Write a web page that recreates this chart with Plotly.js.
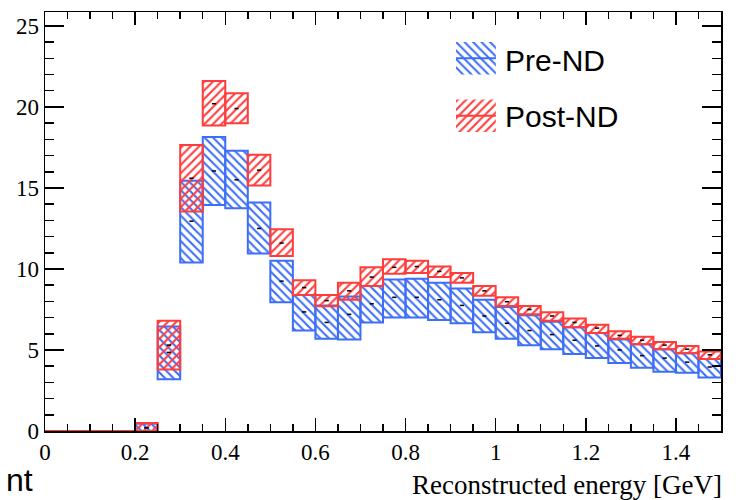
<!DOCTYPE html>
<html>
<head>
<meta charset="utf-8">
<script src="https://cdn.plot.ly/plotly-3.0.1.min.js"></script>
<style>
  html, body { margin: 0; padding: 0; background: #fff; }
  #chart { width: 744px; height: 500px; }
</style>
</head>
<body>
<div id="chart"></div>
<script>
// Reconstructed-energy bins (GeV), bin centres and common width
const binCenters = [0.025, 0.075, 0.125, 0.175, 0.225, 0.275, 0.325, 0.375, 0.425, 0.475,
                    0.525, 0.575, 0.625, 0.675, 0.725, 0.775, 0.825, 0.875, 0.925, 0.975,
                    1.025, 1.075, 1.125, 1.175, 1.225, 1.275, 1.325, 1.375, 1.425, 1.475];
const binWidth = 0.05;

// Pre-ND prediction: error band (low / high) and central value per bin
const preLow     = [0, 0, 0, 0, 0, 3.2, 10.4, 13.95, 13.75, 10.95,
                    7.95, 6.2, 5.7, 5.65, 6.7, 7.0, 7.0, 6.85, 6.65, 6.1,
                    5.7, 5.3, 5.05, 4.75, 4.5, 4.2, 3.9, 3.65, 3.6, 3.3];
const preHigh    = [0, 0, 0, 0, 0.45, 6.45, 15.45, 18.15, 17.3, 14.1,
                    10.5, 8.4, 7.75, 8.3, 8.95, 9.35, 9.4, 9.15, 8.8, 8.1,
                    7.65, 7.15, 6.75, 6.4, 6.05, 5.65, 5.35, 5.05, 4.8, 4.45];
const preCentral = [0, 0, 0, 0, 0.2, 4.85, 12.95, 16.05, 15.5, 12.5,
                    9.25, 7.35, 6.7, 7.2, 7.85, 8.25, 8.25, 8.1, 7.75, 7.1,
                    6.65, 6.2, 5.95, 5.6, 5.25, 5.0, 4.65, 4.5, 4.25, 3.95];

// Post-ND prediction
const postLow     = [0, 0, 0, 0, 0, 3.8, 13.55, 18.85, 19.0, 15.15,
                     10.8, 8.4, 7.7, 8.1, 8.95, 9.7, 9.75, 9.5, 9.15, 8.35,
                     7.72, 7.2, 6.8, 6.4, 6.05, 5.7, 5.35, 5.05, 4.8, 4.45];
const postHigh    = [0, 0, 0, 0, 0.5, 6.8, 17.65, 21.6, 20.85, 17.05,
                     12.45, 9.3, 8.4, 9.15, 10.1, 10.6, 10.5, 10.15, 9.75, 8.95,
                     8.25, 7.72, 7.33, 6.95, 6.55, 6.15, 5.82, 5.5, 5.25, 4.9];
const postCentral = [0, 0, 0, 0, 0.2, 5.3, 15.6, 20.2, 19.9, 16.1,
                     11.6, 8.85, 8.05, 8.65, 9.5, 10.1, 10.15, 9.85, 9.45, 8.65,
                     7.98, 7.5, 7.1, 6.7, 6.35, 5.9, 5.6, 5.3, 5.05, 4.7];

const seriesNames = ['Pre-ND', 'Post-ND'];

const BLUE = '#3d6ef7';
const RED = '#ff3c3c';

// hatched error band drawn as floating bars (base = low, height = high - low)
function bandTrace(name, low, high, color, hatch) {
  const x = [], base = [], y = [];
  binCenters.forEach((c, i) => {
    if (high[i] > low[i]) { x.push(c); base.push(low[i]); y.push(high[i] - low[i]); }
  });
  return {
    type: 'bar', name, x, y, base, width: binWidth,
    marker: {
      color: color,
      pattern: { shape: hatch, size: 6, solidity: 0.35, fgcolor: color, fillmode: 'replace' },
      line: { color: color, width: 2 }
    },
    hoverinfo: 'skip', showlegend: false
  };
}

// bins whose band has no width are drawn as a flat line at their value
function flatTrace(low, high, color) {
  const x = [], y = [];
  binCenters.forEach((c, i) => {
    if (high[i] === low[i]) {
      x.push(c - binWidth / 2, c + binWidth / 2, null);
      y.push(low[i], low[i], null);
    }
  });
  return { type: 'scatter', mode: 'lines', x, y, line: { color, width: 2 },
           hoverinfo: 'skip', showlegend: false, cliponaxis: false };
}

// central value marker for each non-empty bin
function centralTrace(low, high, central) {
  const x = [], y = [];
  binCenters.forEach((c, i) => {
    if (high[i] > low[i]) { x.push(c); y.push(central[i]); }
  });
  return { type: 'scatter', mode: 'markers', x, y,
           marker: { symbol: 'line-ew', size: 3, color: '#000', line: { color: '#000', width: 1.5 } },
           hoverinfo: 'skip', showlegend: false };
}

// legend glyphs: hatch swatch with a line across its middle, on a small inset axis
const legendGlyphs = [
  { color: BLUE, hatch: '\\', base: 0.64 },
  { color: RED,  hatch: '/',  base: 0.0 }
];
const glyphHeight = 0.36;
const legendTraces = [];
legendGlyphs.forEach(g => {
  legendTraces.push({
    type: 'bar', x: [0], y: [glyphHeight], base: [g.base], width: 1,
    xaxis: 'x2', yaxis: 'y2',
    marker: { color: g.color, pattern: { shape: g.hatch, size: 6, solidity: 0.35, fgcolor: g.color, fillmode: 'replace' },
              line: { width: 0 } },
    hoverinfo: 'skip', showlegend: false
  });
  legendTraces.push({
    type: 'scatter', mode: 'lines', x: [-0.5, 0.5],
    y: [g.base + glyphHeight / 2, g.base + glyphHeight / 2],
    xaxis: 'x2', yaxis: 'y2', line: { color: g.color, width: 2 },
    hoverinfo: 'skip', showlegend: false
  });
});

const data = [
  bandTrace(seriesNames[0], preLow, preHigh, BLUE, '\\'),
  bandTrace(seriesNames[1], postLow, postHigh, RED, '/'),
  flatTrace(preLow, preHigh, BLUE),
  flatTrace(postLow, postHigh, RED),
  centralTrace(preLow, preHigh, preCentral),
  centralTrace(postLow, postHigh, postCentral),
  ...legendTraces
];

const tickFont = { family: 'Liberation Serif, Times New Roman, serif', size: 23, color: '#000' };

const layout = {
  width: 744, height: 500,
  margin: { l: 45, r: 23, t: 12, b: 69 },
  paper_bgcolor: '#fff', plot_bgcolor: '#fff',
  barmode: 'overlay',
  showlegend: false,
  xaxis: {
    range: [0, 1.5], tick0: 0, dtick: 0.2,
    ticks: 'inside', ticklen: 13, tickwidth: 1.5, tickcolor: '#000',
    minor: { dtick: 0.05, ticks: 'inside', ticklen: 7, tickwidth: 1.5, tickcolor: '#000', showgrid: false },
    showline: true, linecolor: '#000', linewidth: 1.5, mirror: 'allticks',
    showgrid: false, zeroline: false, tickfont: tickFont, fixedrange: true
  },
  yaxis: {
    range: [0, 25.86], tick0: 0, dtick: 5,
    ticks: 'inside', ticklen: 19, tickwidth: 1.5, tickcolor: '#000',
    minor: { dtick: 1, ticks: 'inside', ticklen: 9, tickwidth: 1.5, tickcolor: '#000', showgrid: false },
    showline: true, linecolor: '#000', linewidth: 1.5, mirror: 'allticks',
    showgrid: false, zeroline: false, tickfont: tickFont, fixedrange: true
  },
  xaxis2: { domain: [0.608, 0.667], range: [-0.5, 0.5], visible: false, anchor: 'y2', fixedrange: true },
  yaxis2: { domain: [0.7136, 0.9284], range: [0, 1], visible: false, anchor: 'x2', fixedrange: true },
  annotations: [
    { text: seriesNames[0], xref: 'paper', yref: 'paper', x: 0.678, y: 0.885, xanchor: 'left', yanchor: 'middle',
      showarrow: false, font: { family: 'Liberation Sans, Arial, sans-serif', size: 30, color: '#000' } },
    { text: seriesNames[1], xref: 'paper', yref: 'paper', x: 0.678, y: 0.75, xanchor: 'left', yanchor: 'middle',
      showarrow: false, font: { family: 'Liberation Sans, Arial, sans-serif', size: 30, color: '#000' } },
    { text: 'Reconstructed energy [GeV]', xref: 'paper', yref: 'paper', x: 1.004, y: -0.128,
      xanchor: 'right', yanchor: 'middle', showarrow: false,
      font: { family: 'Liberation Serif, Times New Roman, serif', size: 27, color: '#000' } },
    { text: 'nt', xref: 'paper', yref: 'paper', x: -0.06, y: -0.117, xanchor: 'left', yanchor: 'middle',
      showarrow: false, font: { family: 'Liberation Sans, Arial, sans-serif', size: 32, color: '#000' } }
  ]
};

Plotly.newPlot('chart', data, layout, { staticPlot: true, displayModeBar: false });
</script>
</body>
</html>
